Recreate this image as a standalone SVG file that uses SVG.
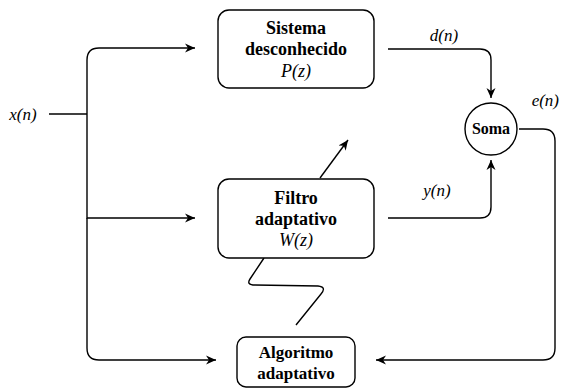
<svg xmlns="http://www.w3.org/2000/svg" width="561" height="390" viewBox="0 0 561 390">
<defs>
<marker id="ar" markerWidth="12" markerHeight="10" refX="10" refY="5" orient="auto" markerUnits="userSpaceOnUse">
<path d="M0,0.5 L10,5 L0,9.5 L3,5 Z" fill="#000"/>
</marker>
</defs>
<rect width="561" height="390" fill="#fff"/>
<g id="connectors" fill="none" stroke="#000" stroke-width="1.4">
<path d="M49 114 H87"/>
<path d="M87 114 V60 Q87 48 99 48 H195" marker-end="url(#ar)"/>
<path d="M87 114 V218 H195" marker-end="url(#ar)"/>
<path d="M87 218 V348 Q87 360 99 360 H216" marker-end="url(#ar)"/>
<path d="M388 49 H480 Q491 49 491 60 V98" marker-end="url(#ar)"/>
<path d="M388 218 H480 Q491 218 491 207 V160" marker-end="url(#ar)"/>
<path d="M519 129 H543 Q555 129 555 141 V348 Q555 360 543 360 H376" marker-end="url(#ar)"/>
<path d="M320 178 L348 140" marker-end="url(#ar)"/>
<path d="M264 258 L250 279 Q246 285 255 285 L318 286 Q327 287 321 294 L296 325"/>
</g>
<g id="labels" font-family="'Liberation Serif', serif" font-style="italic" font-size="17" text-anchor="middle" fill="#000">
<text x="23" y="120">x(n)</text>
<text x="444" y="41">d(n)</text>
<text x="559" y="106" text-anchor="end">e(n)</text>
<text x="437" y="196">y(n)</text>
</g>
<g id="sistema" font-family="'Liberation Serif', serif" font-size="18" text-anchor="middle" fill="#000">
<rect x="218" y="10" width="156" height="78" rx="11" fill="#fff" stroke="#000" stroke-width="1.4"/>
<text x="296" y="34" font-weight="bold">Sistema</text>
<text x="296" y="55" font-weight="bold">desconhecido</text>
<text x="296" y="77" font-style="italic">P(z)</text>
</g>
<g id="filtro" font-family="'Liberation Serif', serif" font-size="18" text-anchor="middle" fill="#000">
<rect x="218" y="179" width="156" height="79" rx="11" fill="#fff" stroke="#000" stroke-width="1.4"/>
<text x="296" y="204" font-weight="bold">Filtro</text>
<text x="296" y="225" font-weight="bold">adaptativo</text>
<text x="296" y="246" font-style="italic">W(z)</text>
</g>
<g id="soma" font-family="'Liberation Serif', serif" font-size="16" text-anchor="middle" fill="#000">
<circle cx="491" cy="129" r="26" fill="#fff" stroke="#000" stroke-width="1.4"/>
<text x="491" y="134" font-weight="bold">Soma</text>
</g>
<g id="algoritmo" font-family="'Liberation Serif', serif" font-size="17" text-anchor="middle" fill="#000">
<rect x="237" y="337" width="118" height="50" rx="9" fill="#fff" stroke="#000" stroke-width="1.4"/>
<text x="296" y="358" font-weight="bold">Algoritmo</text>
<text x="296" y="379" font-weight="bold">adaptativo</text>
</g>
</svg>
